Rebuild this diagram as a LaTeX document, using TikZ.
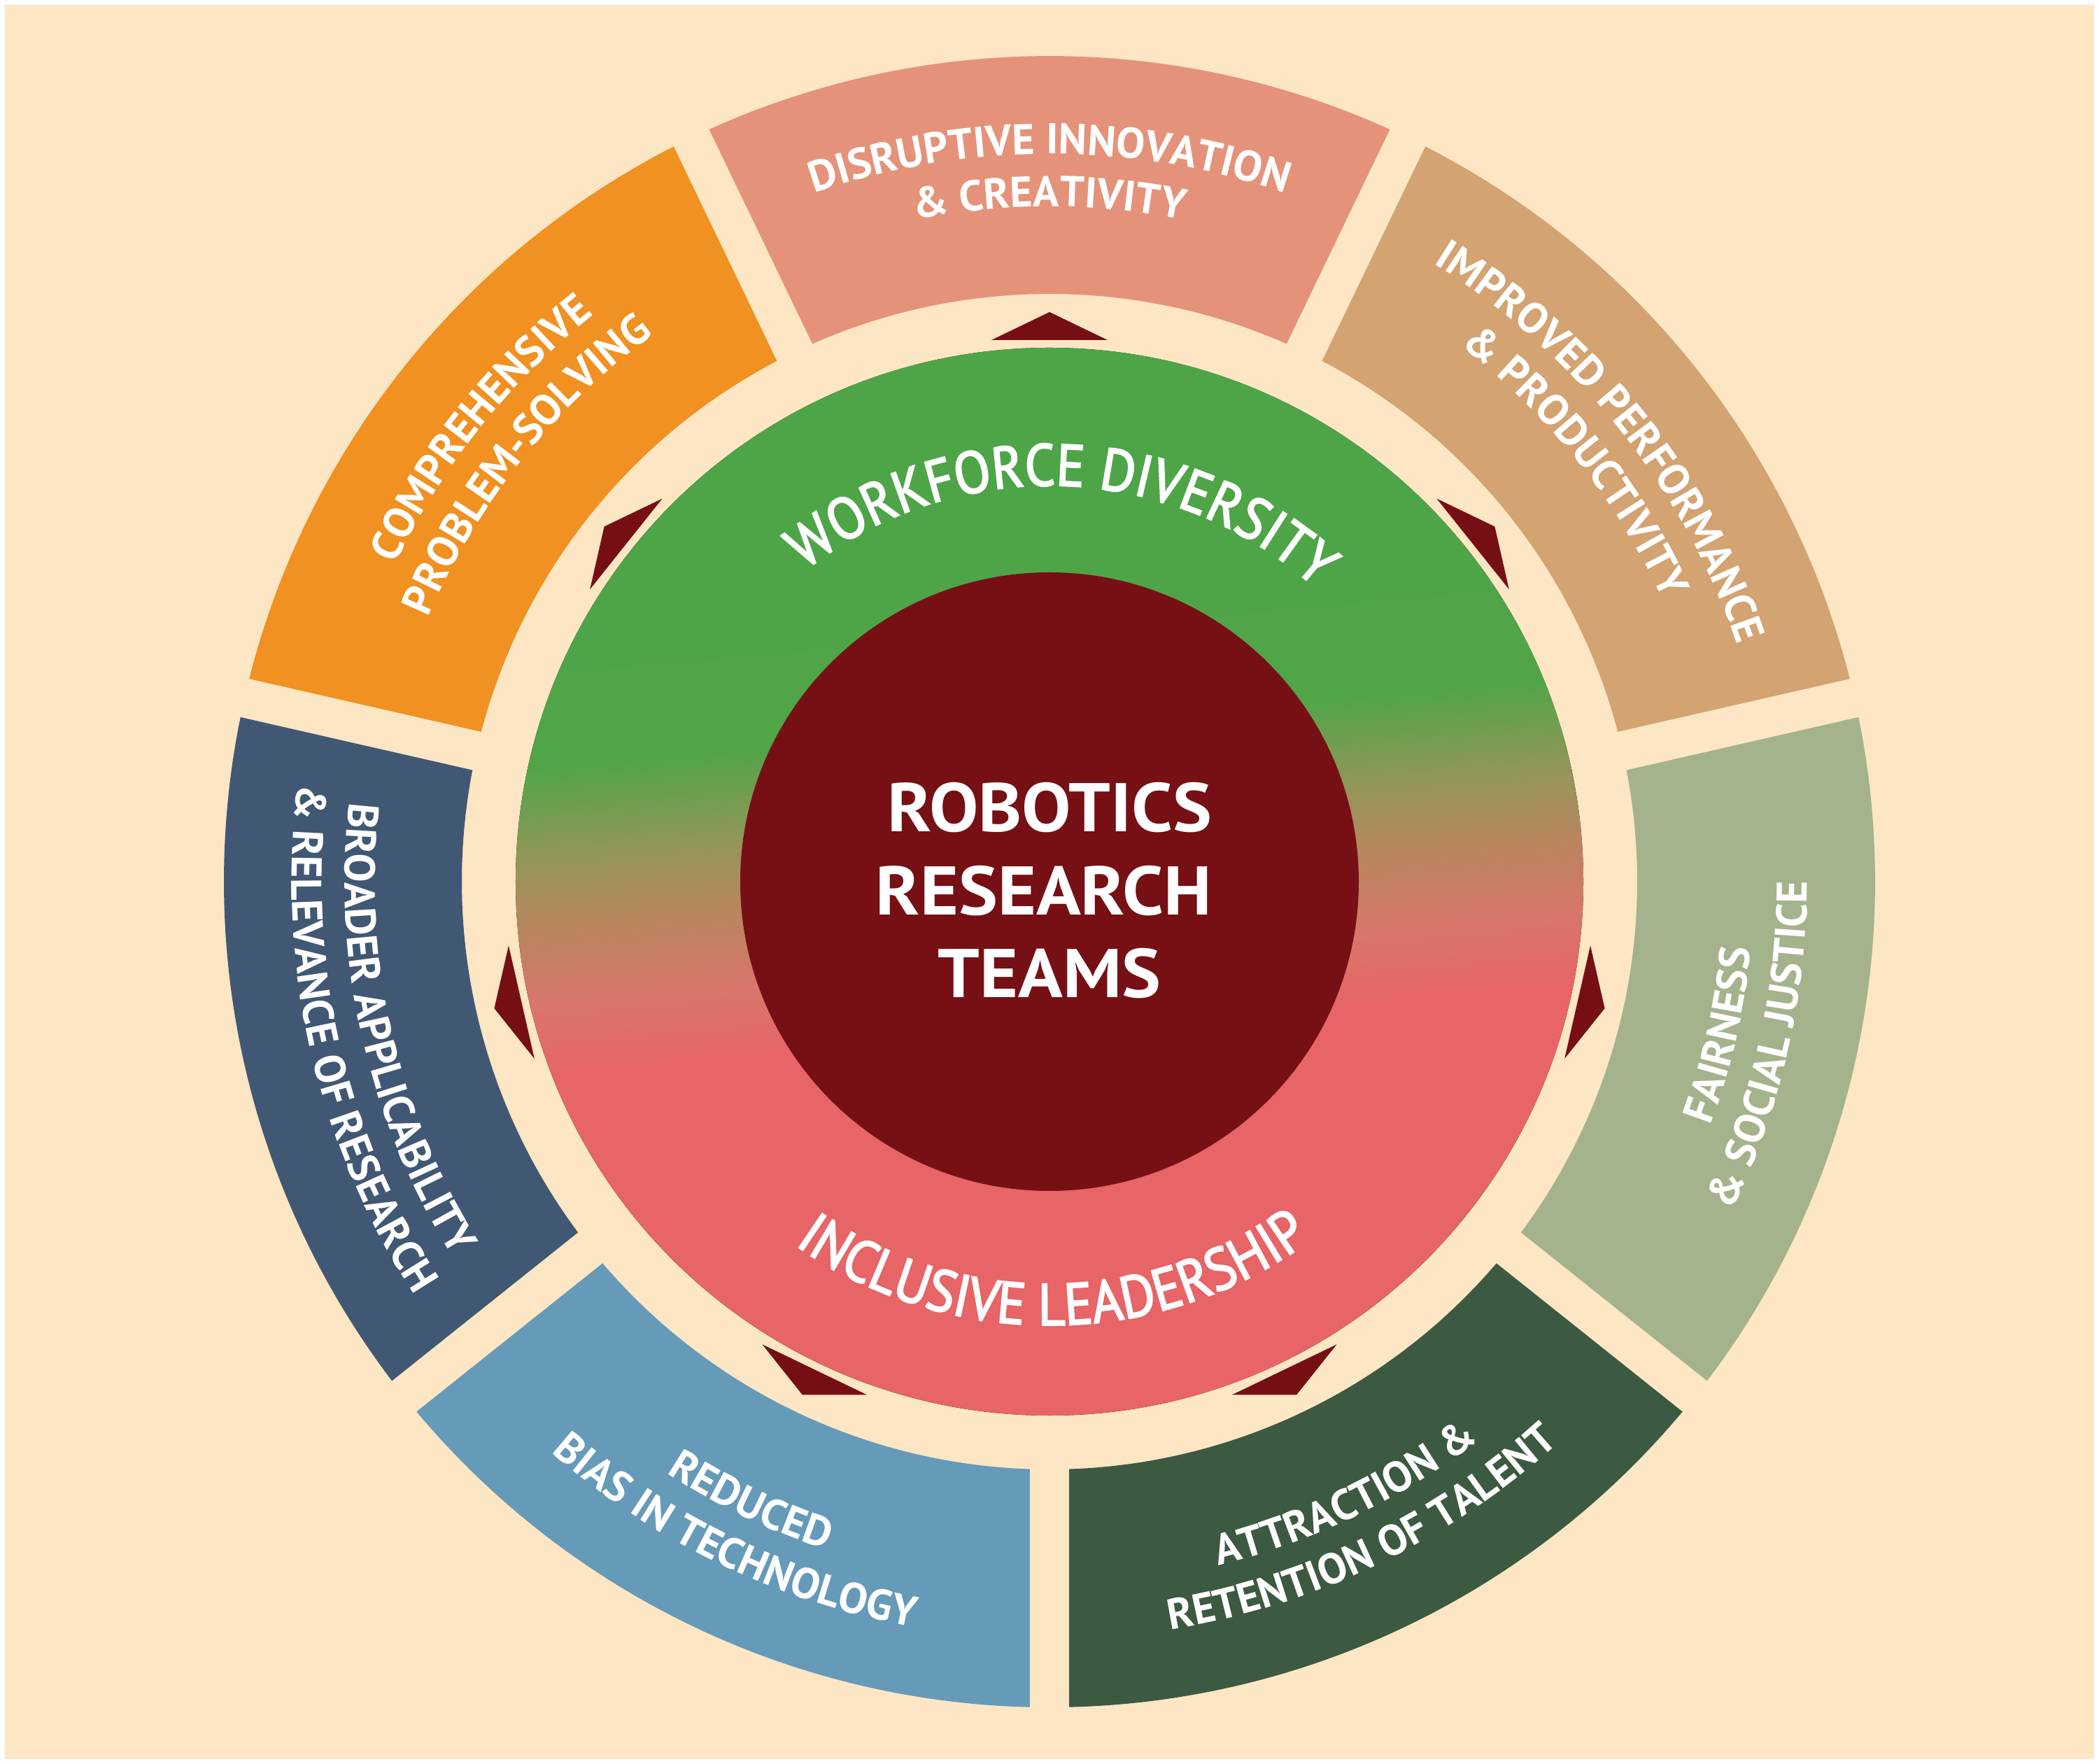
\documentclass[tikz,border=0pt]{standalone}
\usepackage{fontspec}
\setmainfont{PT Sans}
\newfontfamily\ringfamily{PT Sans}[FakeStretch=0.9, FakeBold=2.5]
\newfontfamily\cenfamily{PT Sans}[FakeStretch=1.07]
\usetikzlibrary{decorations.text}
\definecolor{bgcream}{HTML}{FCE6C3}
\definecolor{segA}{HTML}{E4937A}
\definecolor{segB}{HTML}{D3A372}
\definecolor{segC}{HTML}{A4B38C}
\definecolor{segD}{HTML}{3C5942}
\definecolor{segE}{HTML}{669AB9}
\definecolor{segF}{HTML}{415874}
\definecolor{segG}{HTML}{F09121}
\definecolor{trired}{HTML}{750F14}
\definecolor{innerred}{HTML}{761015}
\definecolor{ringred}{HTML}{E76467}
\definecolor{ringsalmon}{HTML}{D8766A}
\definecolor{ringbrown}{HTML}{B8865E}
\definecolor{ringolive}{HTML}{95955A}
\definecolor{ringgreen}{HTML}{4FA548}
\definecolor{ringgreentop}{HTML}{4AA447}
\pgfdeclareverticalshading{ringshade}{100bp}{color(0bp)=(ringred); color(43bp)=(ringred); color(46.3bp)=(ringsalmon); color(50bp)=(ringbrown); color(53bp)=(ringolive); color(57.5bp)=(ringgreen); color(100bp)=(ringgreentop)}
\newcommand\segf{\bfseries\fontsize{17.5}{21}\selectfont}
\newcommand\ringf{\ringfamily\fontsize{24}{28}\selectfont}
\newcommand\cenf{\cenfamily\bfseries\fontsize{28}{33}\selectfont}
\tikzset{
  segtext/.style={decorate, decoration={text along path, text align=center, text color=white, text={#1}}},
  tri/.style={fill=trired},
  gapline/.style={draw=bgcream, line width=0.56cm},
  centertxt/.style={text=white, font=\cenf, inner sep=0pt, anchor=base},
}
\begin{document}
\begin{tikzpicture}
\useasboundingbox (-15,-12.61) rectangle (15,12.60);
\fill[white] (-15,-12.61) rectangle (15,12.60);
\fill[bgcream] (-14.93,-12.54) rectangle (14.93,12.53);
% outer segments
\foreach \a/\col in {90/segA, 38.571/segB, -12.857/segC, -64.286/segD, -115.714/segE, -167.143/segF, 141.429/segG}{
  \fill[\col] (\a-25.714:8.40) arc[start angle=\a-25.714, end angle=\a+25.714, radius=8.40]
     -- (\a+25.714:11.80) arc[start angle=\a+25.714, end angle=\a-25.714, radius=11.80] -- cycle;
}
\foreach \g in {115.714, 64.286, 12.857, -38.571, -90, -141.429, 167.143}{
  \draw[gapline] (\g:7.95) -- (\g:12.3);
}
% ring and core
\fill[shading=ringshade, shading angle=5] (0,0) circle[radius=7.63];
\fill[innerred] (0,0) circle[radius=4.42];
% triangles
\foreach \a in {90, 38.571, -12.857, -64.286, -115.714, -167.143, 141.429}{
  \fill[tri, rotate=\a] (7.74,0.83) -- (8.14,0) -- (7.74,-0.83) -- cycle;
}
% centre text
\node[centertxt] (t1) at (0,0.71) {ROBOTICS};
\node[centertxt] (t2) at (-0.08,-0.48) {RESEARCH};
\node[centertxt] (t3) at (0,-1.66) {TEAMS};
% ring text
\path[segtext={|\ringf|WORKFORCE DIVERSITY}] (138:5.66) arc[start angle=138, end angle=38, radius=5.66];
\path[segtext={|\ringf|INCLUSIVE LEADERSHIP}] (220.5:6.34) arc[start angle=220.5, end angle=320.5, radius=6.34];
% segment texts (tops outward)
\path[segtext={|\segf|DISRUPTIVE INNOVATION}] (140:10.40) arc[start angle=140, end angle=40, radius=10.40];
\path[segtext={|\segf|{\&} CREATIVITY}] (140:9.65) arc[start angle=140, end angle=40, radius=9.65];
\path[segtext={|\segf|IMPROVED PERFORMANCE}] (88.571:10.40) arc[start angle=88.571, end angle=-11.429, radius=10.40];
\path[segtext={|\segf|{\&} PRODUCTIVITY}] (88.571:9.65) arc[start angle=88.571, end angle=-11.429, radius=9.65];
\path[segtext={|\segf|COMPREHENSIVE}] (191.429:10.40) arc[start angle=191.429, end angle=91.429, radius=10.40];
\path[segtext={|\segf|PROBLEM-SOLVING}] (191.429:9.65) arc[start angle=191.429, end angle=91.429, radius=9.65];
% segment texts (tops inward)
\path[segtext={|\segf|FAIRNESS}] (-62.857:10.07) arc[start angle=-62.857, end angle=37.143, radius=10.07];
\path[segtext={|\segf|{\&} SOCIAL JUSTICE}] (-62.857:10.83) arc[start angle=-62.857, end angle=37.143, radius=10.83];
\path[segtext={|\segf|ATTRACTION {\&}}] (-114.286:10.07) arc[start angle=-114.286, end angle=-14.286, radius=10.07];
\path[segtext={|\segf|RETENTION OF TALENT}] (-114.286:10.83) arc[start angle=-114.286, end angle=-14.286, radius=10.83];
\path[segtext={|\segf|REDUCED}] (-165.714:10.07) arc[start angle=-165.714, end angle=-65.714, radius=10.07];
\path[segtext={|\segf|BIAS IN TECHNOLOGY}] (-165.714:10.83) arc[start angle=-165.714, end angle=-65.714, radius=10.83];
\path[segtext={|\segf|BROADER APPLICABILITY}] (-217.143:10.07) arc[start angle=-217.143, end angle=-117.143, radius=10.07];
\path[segtext={|\segf|{\&} RELEVANCE OF RESEARCH}] (-217.143:10.83) arc[start angle=-217.143, end angle=-117.143, radius=10.83];
\end{tikzpicture}
\end{document}
